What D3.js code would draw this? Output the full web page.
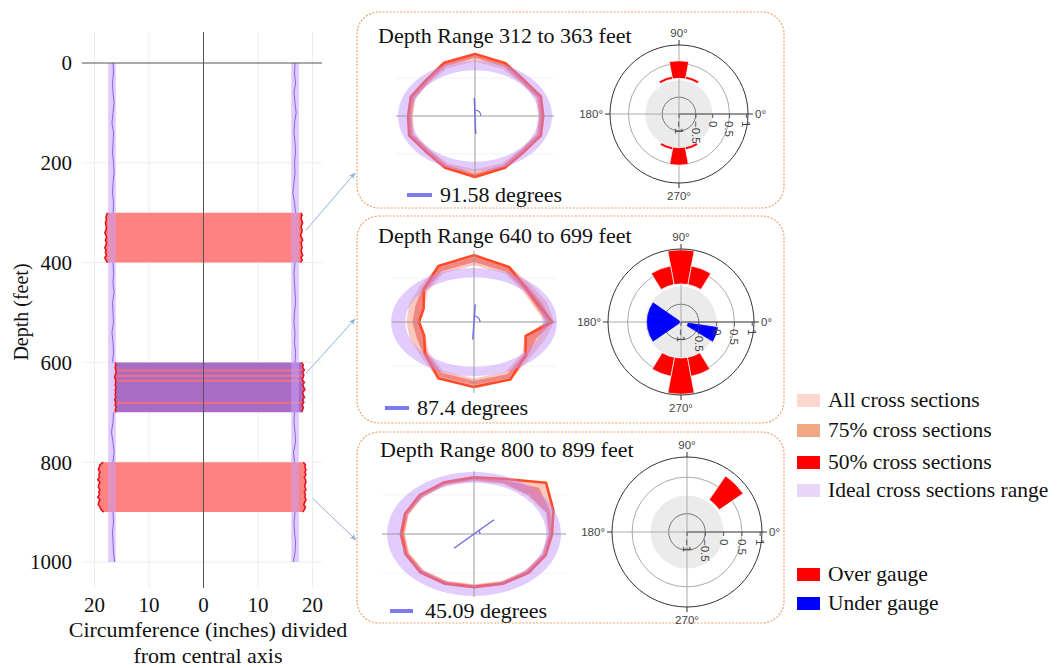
<!DOCTYPE html>
<meta charset="utf-8">
<html>
<head>
<script src="https://cdn.jsdelivr.net/npm/d3@7"></script>
<style>
  body { margin: 0; background: #fff; }
  svg text { font-family: "Liberation Serif", "Times New Roman", serif; fill: #111; }
  .polar text { font-family: "Liberation Sans", Arial, sans-serif; font-size: 11.5px; fill: #444; }
</style>
</head>
<body>
<svg width="1058" height="668"></svg>
<script>

// ---- left chart: bore profile along depth ----
var depthTicks = [0, 200, 400, 600, 800, 1000];
var inchTicks = [-20, -10, 0, 10, 20];
var idealRange = [16.1, 17.5];

// measured radius (inches) every 20 ft, left and right of the axis
var wiggleDepths = d3.range(0, 1001, 20);
var leftWiggle = [16.6, 16.5, 16.7, 16.6, 16.4, 16.6, 16.8, 16.5, 16.6, 16.7,
                  16.5, 16.4, 16.6, 16.7, 16.5, 16.6, 16.8, 16.6, 16.5, 16.7,
                  16.6, 16.5, 16.6, 16.4, 16.7, 16.6, 16.5, 16.8, 16.6, 16.5,
                  16.7, 16.6, 16.4, 16.6, 16.7, 16.5, 16.6, 16.9, 16.6, 16.4,
                  16.6, 16.7, 16.5, 16.6, 16.8, 16.6, 16.5, 16.7, 16.6, 16.5, 16.3];
var rightWiggle = [16.8, 16.7, 16.9, 16.6, 16.8, 17.0, 16.7, 16.6, 16.8, 16.9,
                   16.7, 16.8, 16.6, 16.4, 16.7, 16.9, 16.8, 16.6, 16.7, 16.9,
                   16.8, 16.6, 16.7, 16.8, 16.9, 16.7, 16.6, 16.8, 16.7, 16.9,
                   16.8, 16.6, 16.7, 16.9, 16.8, 16.7, 16.6, 16.8, 16.9, 16.5,
                   16.7, 16.8, 16.6, 16.9, 16.7, 16.8, 16.6, 16.7, 16.9, 16.8, 16.5];

// out-of-gauge depth bands, edges every 5 ft
var bandStep = 5;
var bandStarts = [300, 600, 800];
var bandALeft  = [17.6, 17.8, 17.9, 17.8, 18.0, 17.9, 17.8, 17.9, 18.1, 17.9, 17.8, 18.0, 17.8, 17.9, 18.1, 17.9, 18.0, 17.8, 18.1, 17.9, 17.6];
var bandARight = [17.9, 18.1, 17.9, 18.0, 18.2, 18.0, 17.9, 18.1, 18.0, 17.8, 18.0, 18.2, 17.9, 18.0, 18.1, 17.9, 18.0, 18.2, 17.9, 18.1, 17.8];
var bandBLeft  = [16.2, 16.1, 16.2, 16.1, 16.0, 16.2, 16.3, 16.1, 16.1, 16.2, 16.0, 16.2, 16.1, 16.2, 16.1, 16.3, 16.1, 16.2, 16.0, 16.2, 16.1];
var bandBRight = [18.0, 18.3, 18.2, 18.5, 18.2, 18.4, 18.3, 18.1, 18.5, 18.2, 18.4, 18.6, 18.2, 18.3, 18.5, 18.2, 18.4, 18.1, 18.3, 18.2, 18.0];
var bandCLeft  = [18.4, 19.0, 19.1, 19.3, 19.0, 19.2, 19.1, 19.4, 19.0, 19.2, 19.3, 19.0, 19.2, 19.1, 19.4, 19.0, 19.2, 19.3, 19.0, 18.8, 18.3];
var bandCRight = [18.3, 18.7, 18.6, 18.8, 18.6, 18.8, 18.5, 18.7, 18.8, 18.6, 18.6, 18.8, 18.5, 18.7, 18.6, 18.8, 18.6, 18.4, 18.7, 18.5, 18.2];
var bandBStripes = [616, 627, 637, 681];

// ---- cross sections (radius in inches at every 22.5 degrees) ----
var sectionAngles = d3.range(0, 360, 22.5);
var idealSection = [14.5, 17.5];
var panelTitles = ["Depth Range 312 to 363 feet", "Depth Range 640 to 699 feet", "Depth Range 800 to 899 feet"];
var axisAngles = [91.58, 87.4, 45.09];

var p1Line  = [15.5, 16.2, 15.9, 18.1, 19.7, 18.3, 15.9, 15.8, 15.2, 16.2, 15.9, 17.8, 19.4, 17.8, 15.9, 16.2];
var p1AllHi = [15.7, 16.4, 16.1, 18.2, 19.8, 18.4, 16.1, 16.0, 15.4, 16.4, 16.1, 17.9, 19.5, 17.9, 16.1, 16.4];
var p1AllLo = [14.4, 15.0, 14.8, 16.2, 17.3, 16.4, 14.8, 14.6, 14.1, 15.0, 14.8, 16.2, 17.0, 16.2, 14.8, 15.0];
var p1MidHi = [15.4, 16.0, 15.7, 17.8, 19.4, 18.0, 15.7, 15.6, 15.0, 16.0, 15.7, 17.5, 19.1, 17.5, 15.7, 16.0];
var p1MidLo = [14.7, 15.3, 15.0, 17.0, 18.5, 17.2, 15.0, 14.9, 14.4, 15.3, 15.0, 16.8, 18.3, 16.8, 15.0, 15.3];

var p2Line  = [16.5, 14.7, 15.5, 19.3, 21.6, 19.6, 15.0, 11.5, 11.6, 11.4, 14.6, 19.7, 21.0, 20.1, 15.4, 11.8];
var p2AllHi = [17.0, 16.6, 17.0, 19.5, 21.8, 19.8, 16.2, 14.8, 14.3, 14.6, 15.8, 19.9, 21.2, 20.3, 16.6, 16.0];
var p2AllLo = [15.0, 13.6, 14.4, 17.0, 18.4, 17.0, 13.9, 11.3, 11.4, 11.2, 13.6, 17.1, 18.3, 17.4, 14.4, 11.6];
var p2MidHi = [16.6, 15.6, 16.2, 19.0, 21.0, 19.2, 15.5, 13.4, 13.0, 13.1, 15.0, 19.2, 20.4, 19.6, 15.9, 14.2];
var p2MidLo = [15.4, 14.0, 14.9, 17.6, 19.4, 17.8, 14.4, 11.7, 11.8, 11.6, 14.1, 17.8, 19.0, 18.3, 14.9, 12.0];

var p3Line  = [15.7, 17.3, 20.5, 16.8, 16.0, 15.8, 15.5, 15.0, 14.7, 14.9, 15.3, 15.2, 15.0, 15.2, 15.5, 15.6];
var p3AllHi = [16.0, 17.2, 20.2, 17.0, 16.2, 16.0, 15.8, 15.3, 15.0, 15.2, 15.6, 15.5, 15.3, 15.5, 15.8, 15.9];
var p3AllLo = [14.9, 15.6, 15.3, 15.3, 15.0, 14.9, 14.6, 14.2, 13.9, 14.1, 14.4, 14.3, 14.2, 14.4, 14.6, 14.8];
var p3MidHi = [15.8, 16.6, 18.5, 16.4, 15.9, 15.7, 15.5, 15.0, 14.7, 14.9, 15.3, 15.2, 15.0, 15.2, 15.5, 15.6];
var p3MidLo = [15.1, 15.8, 15.6, 15.5, 15.2, 15.1, 14.8, 14.4, 14.1, 14.3, 14.6, 14.5, 14.4, 14.6, 14.8, 15.0];

// ---- polar gauge bars (angle in degrees, radial value -1..1) ----
var radialTicks = [-1, -0.5, 0, 0.5, 1];
var p1OverAngle = [90, 69, 111, 270, 249, 291];
var p1OverBase  = [0.06, 0.06, 0.06, 0.0, 0.0, 0.0];
var p1OverTop   = [0.58, 0.14, 0.14, 0.52, 0.08, 0.08];
var p2OverAngle = [90, 69, 111, 270, 249, 291];
var p2OverBase  = [0.07, 0.07, 0.07, 0.01, 0.01, 0.01];
var p2OverTop   = [1.03, 0.6, 0.6, 1.03, 0.55, 0.55];
var p2UnderAngle = [157, 180, 203, 340];
var p2UnderBase  = [-0.95, -0.95, -0.95, -0.8];
var p2UnderTop   = [-0.05, -0.05, -0.05, 0.04];
var p3OverAngle = [45];
var p3OverBase  = [0.07];
var p3OverTop   = [0.86];

var legendLabels = ["All cross sections", "75% cross sections", "50% cross sections", "Ideal cross sections range", "Over gauge", "Under gauge"];
var legendColors = ["#fdd6d0", "#f0a882", "#ff0000", "#e8d6f8", "#ff0000", "#0000ff"];

var svg = d3.select("svg").attr("font-family", "Liberation Serif");
var defs = svg.append("defs");
defs.append("marker").attr("id", "arr")
    .attr("viewBox", "0 0 10 10").attr("refX", 9).attr("refY", 5)
    .attr("markerWidth", 7).attr("markerHeight", 7).attr("orient", "auto")
  .append("path").attr("d", "M0,1 L10,5 L0,9 L3,5 z").attr("fill", "#8fb3da");

// ================= left chart =================
var xL = d3.scaleLinear().domain([-20, 20]).range([94.5, 312.5]);
var yL = d3.scaleLinear().domain([0, 1000]).range([63, 562]);
var lg = svg.append("g");

lg.selectAll(".vg").data(inchTicks.filter(function(d) { return d !== 0; }))
  .enter().append("line")
    .attr("x1", function(d) { return xL(d); }).attr("x2", function(d) { return xL(d); })
    .attr("y1", 32).attr("y2", 588).attr("stroke", "#ededed");
lg.selectAll(".hg").data(depthTicks.slice(1))
  .enter().append("line")
    .attr("x1", 82).attr("x2", 322)
    .attr("y1", function(d) { return yL(d); }).attr("y2", function(d) { return yL(d); })
    .attr("stroke", "#ededed");

var bands = [
  {left: bandALeft, right: bandARight, fill: "#ff8282"},
  {left: bandBLeft, right: bandBRight, fill: "#a86cc4"},
  {left: bandCLeft, right: bandCRight, fill: "#ff8282"}
];
var bandPts = bands.map(function(b, k) {
  return b.left.map(function(v, i) {
    return {d: bandStarts[k] + i * bandStep, l: -v, r: b.right[i]};
  });
});
function outsideBands(depth) {
  return bandStarts.every(function(s) { return depth <= s || depth >= s + 100; });
}

var area = d3.area()
  .y(function(p) { return yL(p.d); })
  .x0(function(p) { return xL(p.l); })
  .x1(function(p) { return xL(p.r); });
bands.forEach(function(b, k) {
  lg.append("path").attr("d", area(bandPts[k])).attr("fill", b.fill);
});
lg.selectAll(".stripe").data(bandBStripes).enter().append("line")
  .attr("x1", xL(-16)).attr("x2", xL(18))
  .attr("y1", function(d) { return yL(d); }).attr("y2", function(d) { return yL(d); })
  .attr("stroke", "#ea6f84").attr("stroke-width", 2.2);

// ideal range bands
[-1, 1].forEach(function(s) {
  var a = xL(s * idealRange[0]), b = xL(s * idealRange[1]);
  lg.append("rect")
    .attr("x", Math.min(a, b)).attr("width", Math.abs(b - a))
    .attr("y", yL(0)).attr("height", yL(1000) - yL(0))
    .attr("fill", "rgb(200,160,250)").attr("opacity", 0.55);
});

// measured wall lines (hidden under the coloured bands)
var wig = d3.line()
  .defined(function(d) { return outsideBands(d[1]); })
  .x(function(d) { return xL(d[0]); }).y(function(d) { return yL(d[1]); });
lg.append("path")
  .attr("d", wig(leftWiggle.map(function(v, i) { return [-v, wiggleDepths[i]]; })))
  .attr("fill", "none").attr("stroke", "#8467e8").attr("stroke-width", 1);
lg.append("path")
  .attr("d", wig(rightWiggle.map(function(v, i) { return [v, wiggleDepths[i]]; })))
  .attr("fill", "none").attr("stroke", "#8467e8").attr("stroke-width", 1);

// band edges
var edge = d3.line().y(function(p) { return yL(p.d); });
bandPts.forEach(function(pts) {
  lg.append("path").attr("d", edge.x(function(p) { return xL(p.l); })(pts))
    .attr("fill", "none").attr("stroke", "#e3141c").attr("stroke-width", 1.6);
  lg.append("path").attr("d", edge.x(function(p) { return xL(p.r); })(pts))
    .attr("fill", "none").attr("stroke", "#e3141c").attr("stroke-width", 1.6);
});

// axes lines
lg.append("line").attr("x1", xL(0)).attr("x2", xL(0)).attr("y1", 32).attr("y2", 588)
  .attr("stroke", "#555").attr("stroke-width", 1);
lg.append("line").attr("x1", 82).attr("x2", 322).attr("y1", yL(0)).attr("y2", yL(0))
  .attr("stroke", "#555").attr("stroke-width", 1.2);

lg.selectAll(".yt").data(depthTicks).enter().append("text")
  .attr("x", 72).attr("y", function(d) { return yL(d); }).attr("dy", "0.35em")
  .attr("text-anchor", "end").attr("font-size", 21).text(function(d) { return d; });
lg.selectAll(".xt").data(inchTicks).enter().append("text")
  .attr("x", function(d) { return xL(d); }).attr("y", 612)
  .attr("text-anchor", "middle").attr("font-size", 21).text(function(d) { return Math.abs(d); });
lg.append("text").attr("transform", "translate(28,312) rotate(-90)")
  .attr("text-anchor", "middle").attr("font-size", 20).text("Depth (feet)");
lg.append("text").attr("x", 208).attr("y", 637).attr("text-anchor", "middle")
  .attr("font-size", 22).text("Circumference (inches) divided");
lg.append("text").attr("x", 208).attr("y", 663).attr("text-anchor", "middle")
  .attr("font-size", 22).text("from central axis");

// connectors to the panels
var connectors = [
  {inch: 18.8, depth: 335, to: [355, 173]},
  {inch: 18.8, depth: 622, to: [355, 319]},
  {inch: 20.0, depth: 872, to: [356, 540]}
];
svg.selectAll(".conn").data(connectors).enter().append("line")
  .attr("x1", function(d) { return xL(d.inch); }).attr("y1", function(d) { return yL(d.depth); })
  .attr("x2", function(d) { return d.to[0]; }).attr("y2", function(d) { return d.to[1]; })
  .attr("stroke", "#8fb3da").attr("stroke-width", 1).attr("marker-end", "url(#arr)");

// ================= panels =================
var panels = [
  {box: [357, 12, 427, 196], title: [378, 43], cs: [475, 116, 4.4, 3.15, 79, 61],
   polar: [679, 114, 69], leg: [407, 432, 195, 440, 202],
   line: p1Line, allHi: p1AllHi, allLo: p1AllLo, midHi: p1MidHi, midLo: p1MidLo,
   over: [p1OverAngle, p1OverBase, p1OverTop], under: [[], [], []]},
  {box: [357, 216, 427, 207], title: [378, 243], cs: [474, 322, 4.74, 3.09, 82, 71],
   polar: [681, 322, 73], leg: [385, 409, 408, 417, 415],
   line: p2Line, allHi: p2AllHi, allLo: p2AllLo, midHi: p2MidHi, midLo: p2MidLo,
   over: [p2OverAngle, p2OverBase, p2OverTop], under: [p2UnderAngle, p2UnderBase, p2UnderTop]},
  {box: [357, 432, 427, 191], title: [380, 457], cs: [474, 534, 4.97, 3.54, 92, 63],
   polar: [687, 532, 75], leg: [390, 413, 611, 425, 618],
   line: p3Line, allHi: p3AllHi, allLo: p3AllLo, midHi: p3MidHi, midLo: p3MidLo,
   over: [p3OverAngle, p3OverBase, p3OverTop], under: [[], [], []]}
];

var rad = Math.PI / 180;

panels.forEach(function(p, k) {
  var g = svg.append("g");
  g.append("rect").attr("x", p.box[0]).attr("y", p.box[1])
    .attr("width", p.box[2]).attr("height", p.box[3]).attr("rx", 22)
    .attr("fill", "#fff").attr("stroke", "#eba372").attr("stroke-width", 1.2)
    .attr("stroke-dasharray", "2,1.5");
  g.append("text").attr("x", p.title[0]).attr("y", p.title[1])
    .attr("font-size", 22).text(panelTitles[k]);

  // --- cross section (radius in inches -> pixels via per-panel scale) ---
  var cx = p.cs[0], cy = p.cs[1];
  var xs = d3.scaleLinear().domain([-1, 1]).range([cx - p.cs[2], cx + p.cs[2]]);
  var ys = d3.scaleLinear().domain([-1, 1]).range([cy + p.cs[3], cy - p.cs[3]]);
  function pts(arr) {
    return arr.map(function(r, i) {
      var a = sectionAngles[i] * rad;
      return [xs(r * Math.cos(a)), ys(r * Math.sin(a))];
    });
  }
  function ring(lo, hi) {
    return "M" + pts(hi).join("L") + "Z M" + pts(lo).join("L") + "Z";
  }
  g.append("line").attr("x1", cx - p.cs[4]).attr("x2", cx + p.cs[4]).attr("y1", cy - p.cs[5] * 0.62).attr("y2", cy - p.cs[5] * 0.62)
    .attr("stroke", "#f3f3f3");
  g.append("line").attr("x1", cx - p.cs[4]).attr("x2", cx + p.cs[4]).attr("y1", cy + p.cs[5] * 0.62).attr("y2", cy + p.cs[5] * 0.62)
    .attr("stroke", "#f3f3f3");
  g.append("path").attr("d", ring(p.allLo, p.allHi)).attr("fill-rule", "evenodd")
    .attr("fill", "#f9bfb2").attr("opacity", 0.85);
  g.append("path").attr("d", ring(p.midLo, p.midHi)).attr("fill-rule", "evenodd")
    .attr("fill", "#ef6f70").attr("opacity", 0.75);
  g.append("path").attr("d", d3.line().curve(d3.curveLinearClosed)(pts(p.line)))
    .attr("fill", "none").attr("stroke", "#ff4a26").attr("stroke-width", 2.6)
    .attr("stroke-linejoin", "round");

  // ideal range ellipse ring
  function ell(r) {
    var rx = xs(r) - cx, ry = cy - ys(r);
    return "M" + (cx - rx) + "," + cy + " a" + rx + "," + ry + " 0 1,0 " + (2 * rx) + ",0" +
           " a" + rx + "," + ry + " 0 1,0 " + (-2 * rx) + ",0Z";
  }
  g.append("path").attr("d", ell(idealSection[1]) + " " + ell(idealSection[0]))
    .attr("fill-rule", "evenodd").attr("fill", "rgb(190,140,250)").attr("opacity", 0.45);

  g.append("line").attr("x1", cx - p.cs[4]).attr("x2", cx + p.cs[4]).attr("y1", cy).attr("y2", cy)
    .attr("stroke", "#9a9a9a");
  g.append("line").attr("x1", cx).attr("x2", cx).attr("y1", cy - p.cs[5]).attr("y2", cy + p.cs[5])
    .attr("stroke", "#9a9a9a");

  // principal axis indicator
  var th = axisAngles[k] * rad, L = 5.7;
  var ux = xs(L * Math.cos(th)) - cx, uy = ys(L * Math.sin(th)) - cy;
  g.append("line").attr("x1", cx - ux).attr("y1", cy - uy).attr("x2", cx + ux).attr("y2", cy + uy)
    .attr("stroke", "#6b6be3").attr("stroke-width", 1.4);
  var pa = Math.atan2(-uy, ux);
  g.append("path").attr("transform", "translate(" + cx + "," + cy + ")")
    .attr("d", d3.arc()({innerRadius: 6, outerRadius: 6, startAngle: Math.PI / 2 - pa, endAngle: Math.PI / 2}))
    .attr("fill", "none").attr("stroke", "#6b6be3").attr("stroke-width", 1.2);

  g.append("line").attr("x1", p.leg[0]).attr("x2", p.leg[1]).attr("y1", p.leg[2]).attr("y2", p.leg[2])
    .attr("stroke", "#7b7bef").attr("stroke-width", 4);
  g.append("text").attr("x", p.leg[3]).attr("y", p.leg[4]).attr("font-size", 22)
    .text(axisAngles[k] + " degrees");

  // --- polar gauge ---
  var pc = p.polar, R = pc[2];
  var pg = g.append("g").attr("class", "polar").attr("transform", "translate(" + pc[0] + "," + pc[1] + ")");
  var r = d3.scaleLinear().domain([-1, 1.05]).range([0, R]);
  pg.append("circle").attr("r", r(0)).attr("fill", "#ebebeb");
  pg.append("circle").attr("r", r(-0.5)).attr("fill", "none").attr("stroke", "#777");
  pg.append("circle").attr("r", r(0.5)).attr("fill", "none").attr("stroke", "#aaa");
  pg.append("line").attr("x1", -R).attr("x2", R).attr("stroke", "#aaa");
  pg.append("line").attr("y1", -R).attr("y2", R).attr("stroke", "#aaa");

  var arc = d3.arc();
  function bars(set, w, color, stroke) {
    set[0].forEach(function(a, i) {
      pg.append("path").attr("d", arc({
          innerRadius: r(set[1][i]), outerRadius: r(set[2][i]),
          startAngle: (90 - a - w / 2) * rad, endAngle: (90 - a + w / 2) * rad}))
        .attr("fill", color).attr("stroke", stroke).attr("stroke-width", 0.7);
    });
  }
  bars(p.over, 21, "#ff0000", "#fff");
  bars(p.under, 23, "#0000ff", "#0000ff");

  pg.append("line").attr("x1", 0).attr("x2", R).attr("stroke", "#555");
  pg.selectAll(".rt").data(radialTicks).enter().append("line")
    .attr("x1", function(d) { return r(d); }).attr("x2", function(d) { return r(d); })
    .attr("y1", 0).attr("y2", 4).attr("stroke", "#555");
  pg.selectAll(".rl").data(radialTicks).enter().append("text")
    .attr("transform", function(d) { return "translate(" + r(d) + ",7) rotate(90)"; })
    .attr("dy", "0.35em").attr("font-size", 12)
    .text(function(d) { return d < 0 ? "\u2212" + Math.abs(d) : d; });
  pg.append("circle").attr("r", R).attr("fill", "none").attr("stroke", "#333");
  [[R, 0, R + 5, 0], [-R, 0, -R - 5, 0], [0, -R, 0, -R - 5], [0, R, 0, R + 5]].forEach(function(t) {
    pg.append("line").attr("x1", t[0]).attr("y1", t[1]).attr("x2", t[2]).attr("y2", t[3]).attr("stroke", "#333");
  });
  pg.append("text").attr("x", R + 7).attr("y", 4).text("0\u00b0");
  pg.append("text").attr("x", -R - 7).attr("y", 4).attr("text-anchor", "end").text("180\u00b0");
  pg.append("text").attr("y", -R - 8).attr("text-anchor", "middle").text("90\u00b0");
  pg.append("text").attr("y", R + 17).attr("text-anchor", "middle").text("270\u00b0");
});

// ================= legend =================
var legY = [401, 431, 463, 491, 575, 604];
var lgd = svg.append("g");
lgd.selectAll("rect").data(legendLabels).enter().append("rect")
  .attr("x", 797).attr("y", function(d, i) { return legY[i] - 7; })
  .attr("width", 23).attr("height", 13)
  .attr("fill", function(d, i) { return legendColors[i]; });
lgd.selectAll("text").data(legendLabels).enter().append("text")
  .attr("x", 828).attr("y", function(d, i) { return legY[i] + 6; })
  .attr("font-size", 21.5).text(function(d) { return d; });

</script>
</body>
</html>
